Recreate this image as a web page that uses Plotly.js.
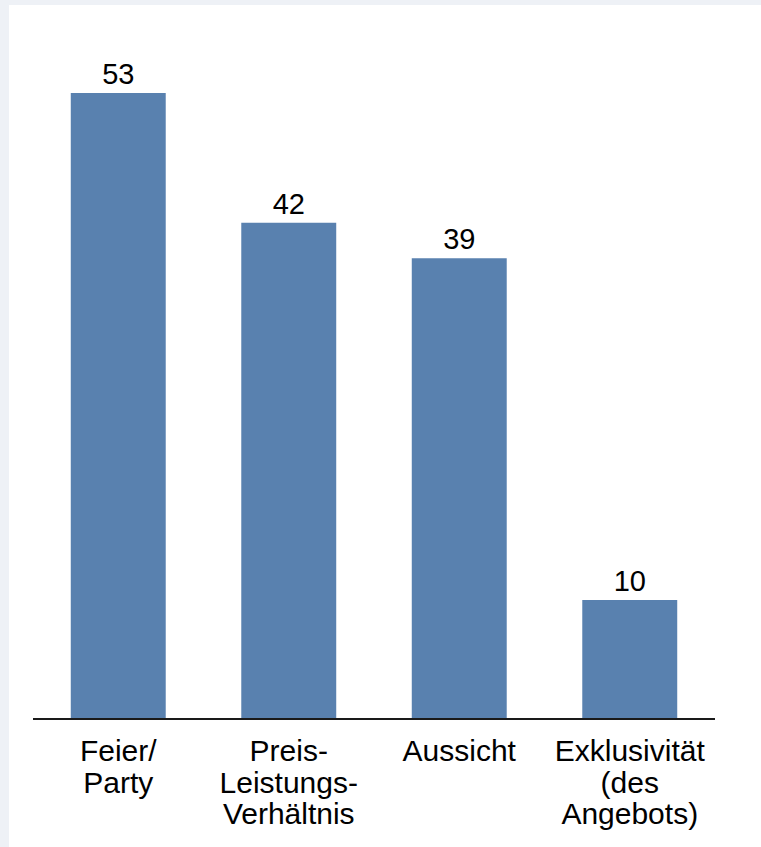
<!DOCTYPE html>
<html>
<head>
<meta charset="utf-8">
<script src="https://cdn.plot.ly/plotly-3.0.1.min.js"></script>
<style>
  html, body { margin: 0; padding: 0; background: #eef1f6; width: 761px; height: 847px; overflow: hidden; }
  #chart { position: absolute; left: 9px; top: 5px; width: 752px; height: 842px; background: #ffffff; }
</style>
</head>
<body>
<div id="chart"></div>
<script>
const categories = ["Feier/<br>Party", "Preis-<br>Leistungs-<br>Verhältnis", "Aussicht", "Exklusivität<br>(des<br>Angebots)"];
const values = [53, 42, 39, 10];
const valueLabels = ["53", "42", "39", "10"];

const trace = {
  type: "bar",
  x: categories,
  y: values,
  text: valueLabels,
  textposition: "outside",
  cliponaxis: false,
  textfont: { family: "Liberation Sans, Arial, sans-serif", size: 29, color: "#000000" },
  marker: { color: "#5981af", line: { width: 0 } },
  hoverinfo: "none"
};

const layout = {
  width: 752,
  height: 842,
  margin: { l: 24, r: 46, t: 25, b: 129 },
  paper_bgcolor: "#ffffff",
  plot_bgcolor: "#ffffff",
  bargap: 0.443,
  showlegend: false,
  font: { family: "Liberation Sans, Arial, sans-serif", size: 30, color: "#000000" },
  xaxis: {
    type: "category",
    showline: true,
    linecolor: "#1a1a1a",
    linewidth: 2,
    ticks: "",
    showgrid: false,
    zeroline: false,
    tickfont: { family: "Liberation Sans, Arial, sans-serif", size: 30, color: "#000000" },
    ticklabelstandoff: 5
  },
  yaxis: {
    range: [0, 58.35],
    visible: false,
    showgrid: false,
    zeroline: false
  }
};

Plotly.newPlot("chart", [trace], layout, { staticPlot: true, displayModeBar: false }).then(function () {
  document.querySelectorAll(".xtick text tspan.line").forEach(function (t) {
    const dy = parseFloat(t.getAttribute("dy"));
    if (dy > 0) t.setAttribute("dy", (dy / 1.3 * 1.05).toFixed(3) + "em");
  });
});
</script>
</body>
</html>
